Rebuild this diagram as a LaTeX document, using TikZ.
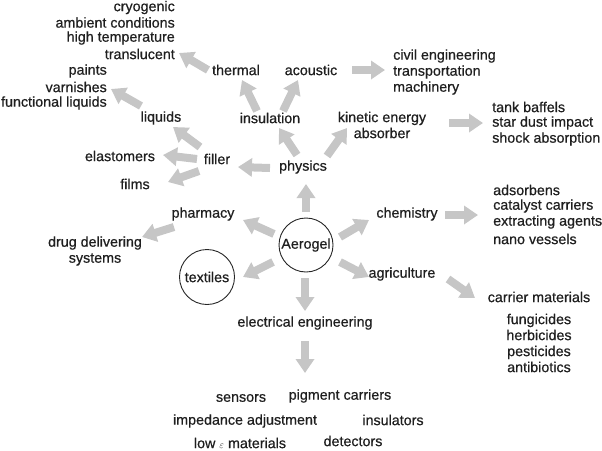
\documentclass[tikz,border=0pt]{standalone}
\usepackage{fontspec}
\setmainfont{Liberation Sans}[FakeBold=0.6]
\usetikzlibrary{arrows.meta,shapes.geometric}
\definecolor{arrgray}{HTML}{C6C6C6}
\tikzset{
  lbl/.style={inner sep=0pt, font=\fontsize{14.3}{16}\selectfont, text=black!88},
  garrow/.style={draw=arrgray, line width=8pt, -{Triangle[length=14pt,width=18pt]}, arrgray},
  ring/.style={draw=black!85, line width=0.9pt, inner sep=0pt}
}
\begin{document}
\begin{tikzpicture}[x=1pt,y=-1pt]
\useasboundingbox (0,0) rectangle (602,450);
% top-left lists
\node[lbl, anchor=east] (cryo) at (175,7.5) {cryogenic};
\node[lbl, anchor=east] (amb) at (175,22.5) {ambient conditions};
\node[lbl, anchor=east] (hight) at (175,38) {high temperature};
\node[lbl, anchor=east] (transl) at (175,54) {translucent};
\node[lbl, anchor=east] (paints) at (107,71) {paints};
\node[lbl, anchor=east] (varn) at (107,87) {varnishes};
\node[lbl, anchor=east] (funcl) at (107,103) {functional liquids};
% physics branch
\node[lbl] (thermal) at (236,70) {thermal};
\node[lbl] (acoustic) at (311,70) {acoustic};
\node[lbl, anchor=west] (civil) at (393,56) {civil engineering};
\node[lbl, anchor=west] (transp) at (393,72) {transportation};
\node[lbl, anchor=west] (mach) at (393,88) {machinery};
\node[lbl] (liquids) at (161,118) {liquids};
\node[lbl] (insul) at (270,118) {insulation};
\node[lbl, align=center] (kinetic) at (382,125) {kinetic energy\\absorber};
\node[lbl, anchor=west] (tank) at (492,107) {tank baffels};
\node[lbl, anchor=west] (star) at (492,123) {star dust impact};
\node[lbl, anchor=west] (shock) at (492,139) {shock absorption};
\node[lbl] (elast) at (120,156) {elastomers};
\node[lbl] (filler) at (217,159) {filler};
\node[lbl] (physics) at (303,167) {physics};
\node[lbl] (films) at (135,184) {films};
% middle
\node[lbl] (pharm) at (203,214) {pharmacy};
\node[lbl] (chem) at (407,214) {chemistry};
\node[lbl, anchor=west] (adsorb) at (493,190) {adsorbens};
\node[lbl, anchor=west] (catal) at (493,206) {catalyst carriers};
\node[lbl, anchor=west] (extr) at (493,222) {extracting agents};
\node[lbl, anchor=west] (nano) at (493,239) {nano vessels};
\node[lbl, ring, circle, minimum size=54pt] (aerogel) at (306,245) {Aerogel};
\node[lbl, align=center] (drug) at (95,251) {drug delivering\\systems};
\node[lbl, ring, circle, minimum size=55pt] (textiles) at (207,277) {textiles};
\node[lbl] (agri) at (402,274) {agriculture};
\node[lbl] (carrier) at (539,297) {carrier materials};
\node[lbl, align=center] (fung) at (539,343) {fungicides\\herbicides\\pesticides\\antibiotics};
\node[lbl] (elec) at (305,323) {electrical engineering};
% bottom
\node[lbl] (sensors) at (241,398) {sensors};
\node[lbl] (pigment) at (340,396) {pigment carriers};
\node[lbl] (imped) at (245,421) {impedance adjustment};
\node[lbl] (insulators) at (393,420) {insulators};
\node[lbl] (lowe) at (240,443) {low {\fontsize{10}{10}\selectfont$\varepsilon$} materials};
\node[lbl] (detect) at (353,441) {detectors};
% arrow end points
\coordinate (s1) at (208,70);   \coordinate (e1) at (179,53);
\coordinate (s2) at (257,111);  \coordinate (e2) at (242,80);
\coordinate (s3) at (283,111);  \coordinate (e3) at (298,80);
\coordinate (s4) at (352,70);   \coordinate (e4) at (385,70);
\coordinate (s5) at (141,106);  \coordinate (e5) at (111,89);
\coordinate (s6) at (200,147);  \coordinate (e6) at (173,127);
\coordinate (s7) at (197,159);  \coordinate (e7) at (163,155);
\coordinate (s8) at (199,171);  \coordinate (e8) at (168,182);
\coordinate (s9) at (270,168);  \coordinate (e9) at (238,167);
\coordinate (s10) at (297,155); \coordinate (e10) at (279,128);
\coordinate (s11) at (327,156); \coordinate (e11) at (347,128);
\coordinate (s12) at (449,123); \coordinate (e12) at (483,123);
\coordinate (s13) at (306,212); \coordinate (e13) at (306,184);
\coordinate (s14) at (274,234); \coordinate (e14) at (243,220);
\coordinate (s15) at (174,227); \coordinate (e15) at (142,237);
\coordinate (s16) at (273,262); \coordinate (e16) at (243,277);
\coordinate (s17) at (340,237); \coordinate (e17) at (369,220);
\coordinate (s18) at (445,215); \coordinate (e18) at (478,215);
\coordinate (s19) at (340,262); \coordinate (e19) at (369,277);
\coordinate (s20) at (448,279); \coordinate (e20) at (475,298);
\coordinate (s21) at (305,278); \coordinate (e21) at (305,311);
\coordinate (s22) at (305,341); \coordinate (e22) at (305,373);
\foreach \i in {1,...,22} {\draw[garrow] (s\i) -- (e\i);}
\end{tikzpicture}
\end{document}
